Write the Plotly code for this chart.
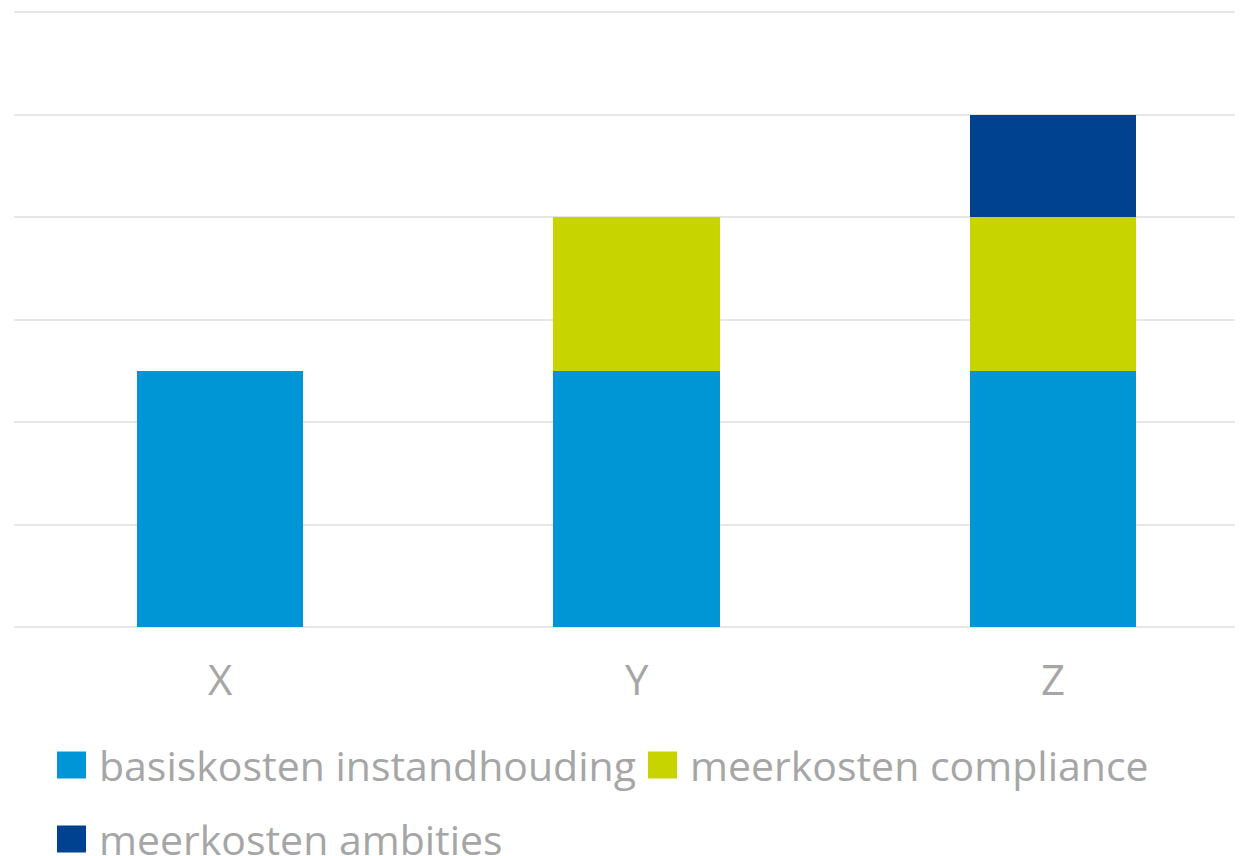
import plotly.graph_objects as go

# chart data
categories = ["X", "Y", "Z"]
series_names = [
    "basiskosten instandhouding",
    "meerkosten compliance",
    "meerkosten ambities",
]
basiskosten = [2.5, 2.5, 2.5]
compliance = [0, 1.5, 1.5]
ambities = [0, 0, 1]
colors = ["#0096D6", "#C8D400", "#00428F"]

# the page body adds an 8px margin, so the figure is 8px smaller
W, H = 1235, 848
L, R, T, B = 6, 0, 1, 226
TEXT = "#A6A6A6"
FONT = "Open Sans"
PAD = 3 / 102.5  # a little room so the 0 and 6 gridlines are drawn

fig = go.Figure()
for name, vals, col in zip(series_names, [basiskosten, compliance, ambities], colors):
    fig.add_trace(go.Bar(
        x=categories, y=vals, name=name, marker_color=col,
        marker_line_width=0, width=0.4, showlegend=False,
    ))


def px_x(px):
    return (px - L) / (W - L - R)


def px_y(py):
    return (H - B - py) / (H - T - B)


# hand-built legend so the swatches can be as large as in the original
legend_pos = [(49, 757), (640, 757), (49, 831)]
shapes, annotations = [], []
for (x0, yc), name, col in zip(legend_pos, series_names, colors):
    shapes.append(dict(
        type="rect", xref="paper", yref="paper",
        x0=px_x(x0), x1=px_x(x0 + 29), y0=px_y(yc - 13.5), y1=px_y(yc + 13.5),
        fillcolor=col, line_width=0,
    ))
    annotations.append(dict(
        xref="paper", yref="paper", x=px_x(x0 + 40), y=px_y(yc),
        xanchor="left", yanchor="middle", showarrow=False, text=name,
        font=dict(family=FONT, size=41, color=TEXT),
    ))

fig.update_layout(
    width=W, height=H,
    barmode="stack",
    margin=dict(l=L, r=R, t=T, b=B),
    plot_bgcolor="white", paper_bgcolor="white",
    font=dict(family=FONT, color=TEXT),
    shapes=shapes, annotations=annotations,
    xaxis=dict(
        range=[-0.495, 2.456], showgrid=False, zeroline=False,
        showline=False, ticks="", ticklabelstandoff=22,
        tickfont=dict(family=FONT, size=42, color=TEXT),
    ),
    yaxis=dict(
        range=[-PAD, 6 + PAD], tickvals=[0, 1, 2, 3, 4, 5, 6],
        showticklabels=False,
        gridcolor="#E6E6E6", gridwidth=2, zeroline=False, showline=False,
    ),
)

fig.write_html("out.html")
